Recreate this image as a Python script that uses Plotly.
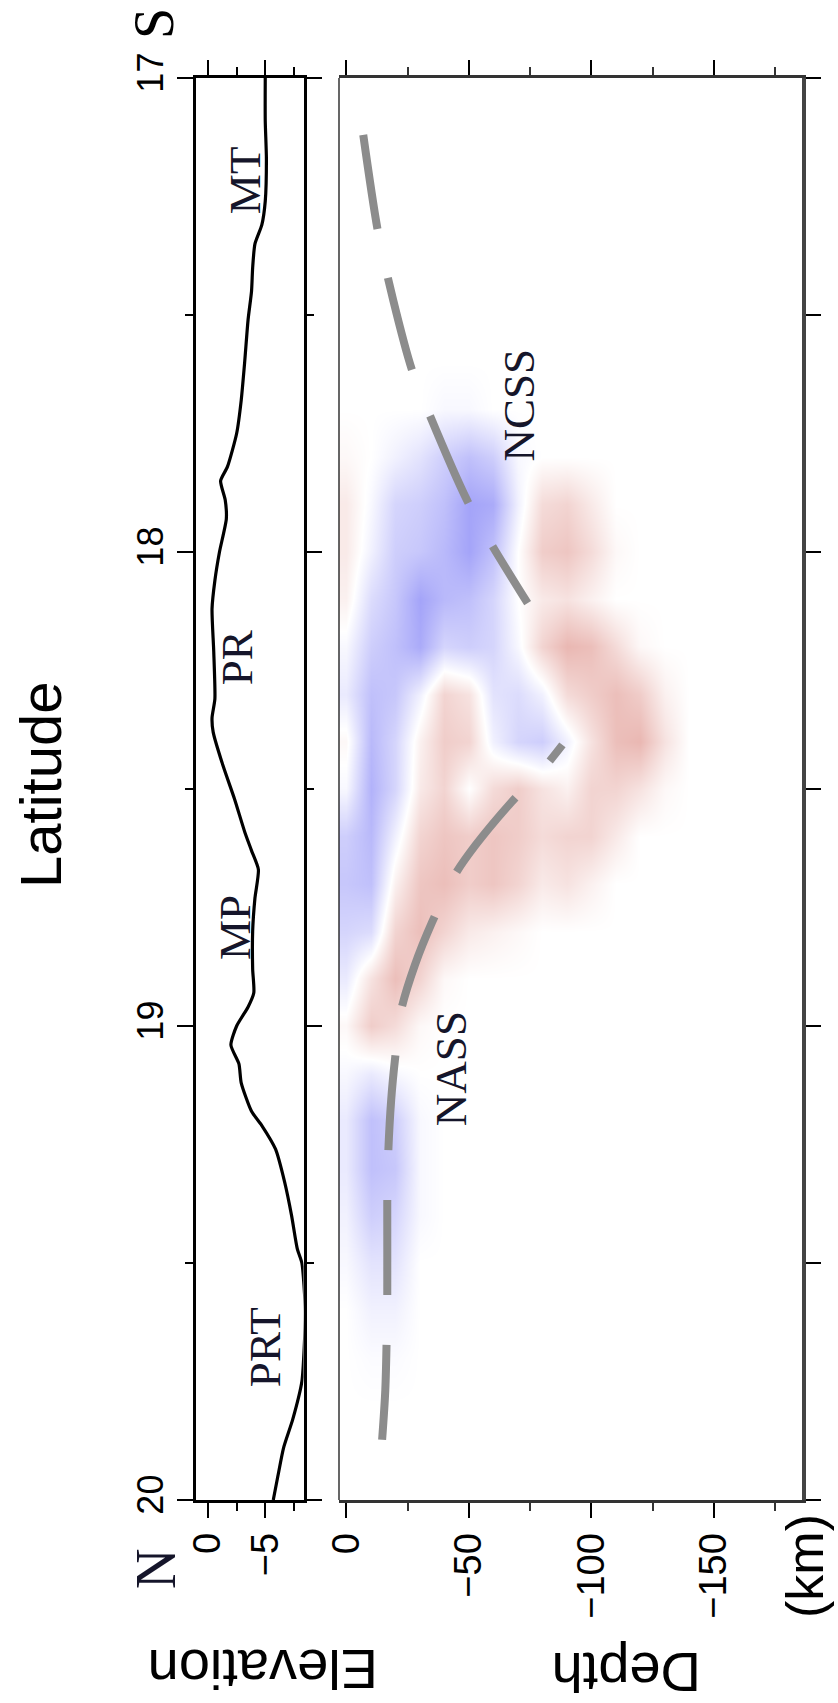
import plotly.graph_objects as go

# ---------------- data ----------------
# Elevation profile (km) along latitude
elev_lat = [17.0, 17.09, 17.17, 17.26, 17.31, 17.35, 17.40, 17.45, 17.51, 17.60,
            17.68, 17.75, 17.82, 17.85, 17.89, 17.93, 18.0, 18.06, 18.12, 18.21,
            18.31, 18.35, 18.38, 18.45, 18.52, 18.59, 18.63, 18.67, 18.73, 18.80,
            18.88, 18.93, 18.96, 19.0, 19.04, 19.08, 19.12, 19.18, 19.21, 19.26,
            19.33, 19.40, 19.47, 19.50, 19.60, 19.68, 19.75, 19.83, 19.89, 19.95, 20.0]
elev_km = [-5.0, -5.0, -5.1, -5.0, -4.7, -4.1, -3.9, -3.8, -3.5, -3.2,
           -2.9, -2.5, -1.7, -1.1, -1.5, -1.6, -1.0, -0.6, -0.35, -0.5,
           -0.6, -0.35, -0.45, -1.3, -2.3, -3.2, -3.8, -4.4, -4.1, -3.9,
           -3.9, -4.0, -3.5, -2.5, -2.0, -2.7, -2.9, -3.8, -4.7, -5.9,
           -6.7, -7.3, -7.8, -8.2, -8.5, -8.4, -8.2, -7.4, -6.6, -6.1, -5.7]

# Slab-top traces (dashed)
ncss_lat = [17.120, 17.327, 17.468, 17.616, 17.707, 17.890, 17.981, 18.108]
ncss_depth = [-6.9, -13.0, -19.1, -26.8, -33.7, -49.2, -58.9, -74.0]
nass_lat = [19.873, 19.768, 19.572, 19.373, 19.268, 19.156, 19.068, 18.966,
            18.871, 18.781, 18.681, 18.618, 18.527, 18.454, 18.407]
nass_depth = [-14.6, -15.9, -16.7, -16.7, -17.1, -18.3, -19.9, -22.4,
              -28.0, -35.0, -44.3, -52.8, -67.5, -80.9, -88.2]

# Velocity anomaly grid (blue positive, red negative)
grid_depth = [0, -10, -20, -30, -40, -50, -60, -70, -80, -90, -100, -110, -120, -130, -140]
grid_lat = [17.6, 17.7, 17.8, 17.9, 18.0, 18.1, 18.2, 18.3, 18.4, 18.5, 18.6, 18.7,
            18.8, 18.9, 19.0, 19.1, 19.2, 19.3, 19.4, 19.5, 19.6, 19.7, 19.8]
anomaly = [
    [0.0, 0.0, 0.0, 0.0, 0.0, 0.0, 0.0, 0.0, 0.0, 0.0, 0.0, 0.0, 0.0, 0.0, 0.0],
    [0.0, 0.0, 0.0, 0.0, 0.05, 0.05, 0.0, 0.0, 0.0, 0.0, 0.0, 0.0, 0.0, 0.0, 0.0],
    [-0.05, 0.0, 0.1, 0.2, 0.35, 0.45, 0.35, 0.05, 0.0, 0.0, 0.0, 0.0, 0.0, 0.0, 0.0],
    [-0.15, 0.05, 0.3, 0.35, 0.45, 0.65, 0.6, 0.1, -0.25, -0.3, -0.15, 0.0, 0.0, 0.0, 0.0],
    [-0.15, 0.1, 0.35, 0.4, 0.5, 0.65, 0.45, 0.0, -0.35, -0.4, -0.25, -0.05, 0.0, 0.0, 0.0],
    [-0.1, 0.25, 0.4, 0.65, 0.5, 0.45, 0.3, 0.0, -0.15, -0.2, -0.1, 0.0, 0.0, 0.0, 0.0],
    [0.05, 0.35, 0.45, 0.6, 0.3, 0.35, 0.3, 0.05, -0.3, -0.5, -0.45, -0.25, -0.05, 0.0, 0.0],
    [0.15, 0.45, 0.4, 0.1, -0.3, -0.2, 0.2, 0.25, 0.1, -0.25, -0.35, -0.45, -0.35, -0.1, 0.0],
    [-0.05, 0.5, 0.3, -0.1, -0.35, -0.3, 0.1, 0.3, 0.35, 0.1, -0.2, -0.45, -0.5, -0.2, 0.0],
    [0.05, 0.55, 0.3, -0.15, -0.3, 0.0, -0.25, -0.35, -0.2, -0.1, -0.3, -0.3, -0.2, -0.05, 0.0],
    [0.35, 0.5, 0.1, -0.3, -0.4, -0.35, -0.4, -0.35, -0.25, -0.3, -0.3, -0.15, 0.0, 0.0, 0.0],
    [0.4, 0.45, -0.1, -0.4, -0.45, -0.35, -0.4, -0.3, -0.15, -0.2, -0.1, 0.0, 0.0, 0.0, 0.0],
    [0.3, 0.25, -0.3, -0.45, -0.3, -0.15, -0.1, -0.05, 0.0, 0.0, 0.0, 0.0, 0.0, 0.0, 0.0],
    [0.15, -0.2, -0.45, -0.3, -0.05, 0.0, 0.0, 0.0, 0.0, 0.0, 0.0, 0.0, 0.0, 0.0, 0.0],
    [-0.05, -0.35, -0.25, -0.05, 0.0, 0.0, 0.0, 0.0, 0.0, 0.0, 0.0, 0.0, 0.0, 0.0, 0.0],
    [0.05, 0.15, 0.05, 0.0, 0.0, 0.0, 0.0, 0.0, 0.0, 0.0, 0.0, 0.0, 0.0, 0.0, 0.0],
    [0.15, 0.45, 0.35, 0.05, 0.0, 0.0, 0.0, 0.0, 0.0, 0.0, 0.0, 0.0, 0.0, 0.0, 0.0],
    [0.15, 0.45, 0.4, 0.05, 0.0, 0.0, 0.0, 0.0, 0.0, 0.0, 0.0, 0.0, 0.0, 0.0, 0.0],
    [0.1, 0.35, 0.3, 0.05, 0.0, 0.0, 0.0, 0.0, 0.0, 0.0, 0.0, 0.0, 0.0, 0.0, 0.0],
    [0.05, 0.2, 0.2, 0.0, 0.0, 0.0, 0.0, 0.0, 0.0, 0.0, 0.0, 0.0, 0.0, 0.0, 0.0],
    [0.0, 0.1, 0.1, 0.0, 0.0, 0.0, 0.0, 0.0, 0.0, 0.0, 0.0, 0.0, 0.0, 0.0, 0.0],
    [0.0, 0.03, 0.03, 0.0, 0.0, 0.0, 0.0, 0.0, 0.0, 0.0, 0.0, 0.0, 0.0, 0.0, 0.0],
    [0.0, 0.0, 0.0, 0.0, 0.0, 0.0, 0.0, 0.0, 0.0, 0.0, 0.0, 0.0, 0.0, 0.0, 0.0],
]

lat_ticks = [17, 18, 19, 20]
lat_ticktext = ["17", "18", "19", "20"]
elev_ticks = [0, -5]
elev_ticktext = ["0", "\u22125"]
depth_ticks = [0, -50, -100, -150]
depth_ticktext = ["0", "\u221250", "\u2212100", "\u2212150"]

# feature labels: (text, value on horizontal axis, latitude)
elev_labels = [("MT", -3.25, 17.215), ("PR", -2.54, 18.224), ("MP", -2.37, 18.793), ("PRT", -5.0, 19.677)]
depth_labels = [("NCSS", -70.7, 17.690), ("NASS", -42.7, 19.089)]

# ---------------- figure ----------------
W, H = 838, 1703
def px_x(p):
    return p / W
def px_y(p):
    return 1 - p / H

SANS = "Liberation Sans, Arial, Helvetica, sans-serif"
SERIF = "Liberation Serif, Times New Roman, serif"

fig = go.Figure()

fig.add_trace(go.Heatmap(
    x=grid_depth, y=grid_lat, z=anomaly, xaxis="x2", yaxis="y2",
    zmin=-1, zmax=1, zsmooth="best", showscale=False,
    colorscale=[[0.0, "rgb(212,112,102)"], [0.5, "rgb(255,255,255)"], [1.0, "rgb(115,115,245)"]],
))

fig.add_trace(go.Scatter(
    x=elev_km, y=elev_lat, xaxis="x", yaxis="y", mode="lines",
    line=dict(color="black", width=3.2, shape="spline", smoothing=0.6),
))

for d, la in [(ncss_depth, ncss_lat), (nass_depth, nass_lat)]:
    fig.add_trace(go.Scatter(
        x=d, y=la, xaxis="x2", yaxis="y2", mode="lines",
        line=dict(color="#8c8c8c", width=8, dash="95px,50px", shape="spline", smoothing=0.8),
    ))

ydom = [px_y(1500), px_y(78)]
common_tick = dict(ticks="outside", tickwidth=2, tickcolor="black", showgrid=False,
                   zeroline=False, automargin=False)

fig.update_layout(
    width=W, height=H, margin=dict(l=0, r=0, t=0, b=0, autoexpand=False),
    paper_bgcolor="white", plot_bgcolor="white", showlegend=False,
    xaxis=dict(domain=[px_x(196), px_x(303.6)], range=[1.05, -8.35], anchor="y",
               tickvals=elev_ticks, ticktext=elev_ticktext, tickangle=-90,
               tickfont=dict(family=SANS, size=38, color="black"),
               ticklen=15, showline=True, linewidth=2.5, linecolor="black", mirror="ticks",
               minor=dict(dtick=2.5, ticklen=8, tickwidth=2, tickcolor="black", ticks="outside"),
               **common_tick),
    yaxis=dict(domain=ydom, range=[20, 17], anchor="x",
               tickvals=lat_ticks, ticktext=lat_ticktext, tickangle=-90,
               tickfont=dict(family=SANS, size=36, color="black"),
               ticklen=16, showline=True, linewidth=2.5, linecolor="black", mirror="ticks",
               minor=dict(dtick=0.5, ticklen=8, tickwidth=2, tickcolor="black", ticks="outside"),
               **common_tick),
    xaxis2=dict(domain=[px_x(339), px_x(802)], range=[3, -186], anchor="y2",
                tickvals=depth_ticks, ticktext=depth_ticktext, tickangle=-90,
                tickfont=dict(family=SANS, size=38, color="black"),
                ticklen=15, showline=True, linewidth=3, linecolor="#333333", mirror="ticks",
                minor=dict(dtick=25, ticklen=8, tickwidth=2, tickcolor="#333333", ticks="outside"),
                **common_tick),
    yaxis2=dict(domain=ydom, range=[20, 17], anchor="x2", matches="y", side="right",
                showticklabels=False, ticklen=15, showline=True, linewidth=3.5,
                linecolor="#444444", mirror=False,
                minor=dict(dtick=0.5, ticklen=8, tickwidth=2, tickcolor="black", ticks="outside"),
                **common_tick),
)

# thin left edge of depth panel
fig.add_shape(type="line", xref="x2 domain", yref="y2 domain", x0=0, x1=0, y0=0, y1=1,
              line=dict(color="black", width=1.2))

C = dict(xanchor="center", yanchor="middle", showarrow=False)
ann = []
for t, xv, la in elev_labels:
    ann.append(dict(text=t, x=xv, y=la, xref="x", yref="y", textangle=-90,
                    font=dict(family=SERIF, size=45, color="#15152a"), **C))
for t, xv, la in depth_labels:
    ann.append(dict(text=t, x=xv, y=la, xref="x2", yref="y2", textangle=-90,
                    font=dict(family=SERIF, size=45, color="#15152a"), **C))

# axis titles (figure is rotated)
ann += [
    dict(text="Latitude", x=px_x(40), y=px_y(785), xref="paper", yref="paper", textangle=-90,
         font=dict(family=SANS, size=58, color="black"), **C),
    dict(text="S", x=px_x(154), y=px_y(24), xref="paper", yref="paper", textangle=-90,
         font=dict(family=SERIF, size=56, color="black"), **C),
    dict(text="N", x=px_x(156), y=px_y(1569), xref="paper", yref="paper", textangle=-90,
         font=dict(family=SERIF, size=56, color="#15152a"), **C),
    dict(text="(km)", x=px_x(805), y=px_y(1566), xref="paper", yref="paper", textangle=-90,
         font=dict(family=SANS, size=52, color="black"), **C),
    dict(text="Elevation", x=px_x(263), y=px_y(1670), xref="paper", yref="paper", textangle=180,
         font=dict(family=SANS, size=56, color="black"), **C),
    dict(text="Depth", x=px_x(627), y=px_y(1673), xref="paper", yref="paper", textangle=180,
         font=dict(family=SANS, size=56, color="black"), **C),
]
fig.update_layout(annotations=ann)

fig.write_html("out.html")
